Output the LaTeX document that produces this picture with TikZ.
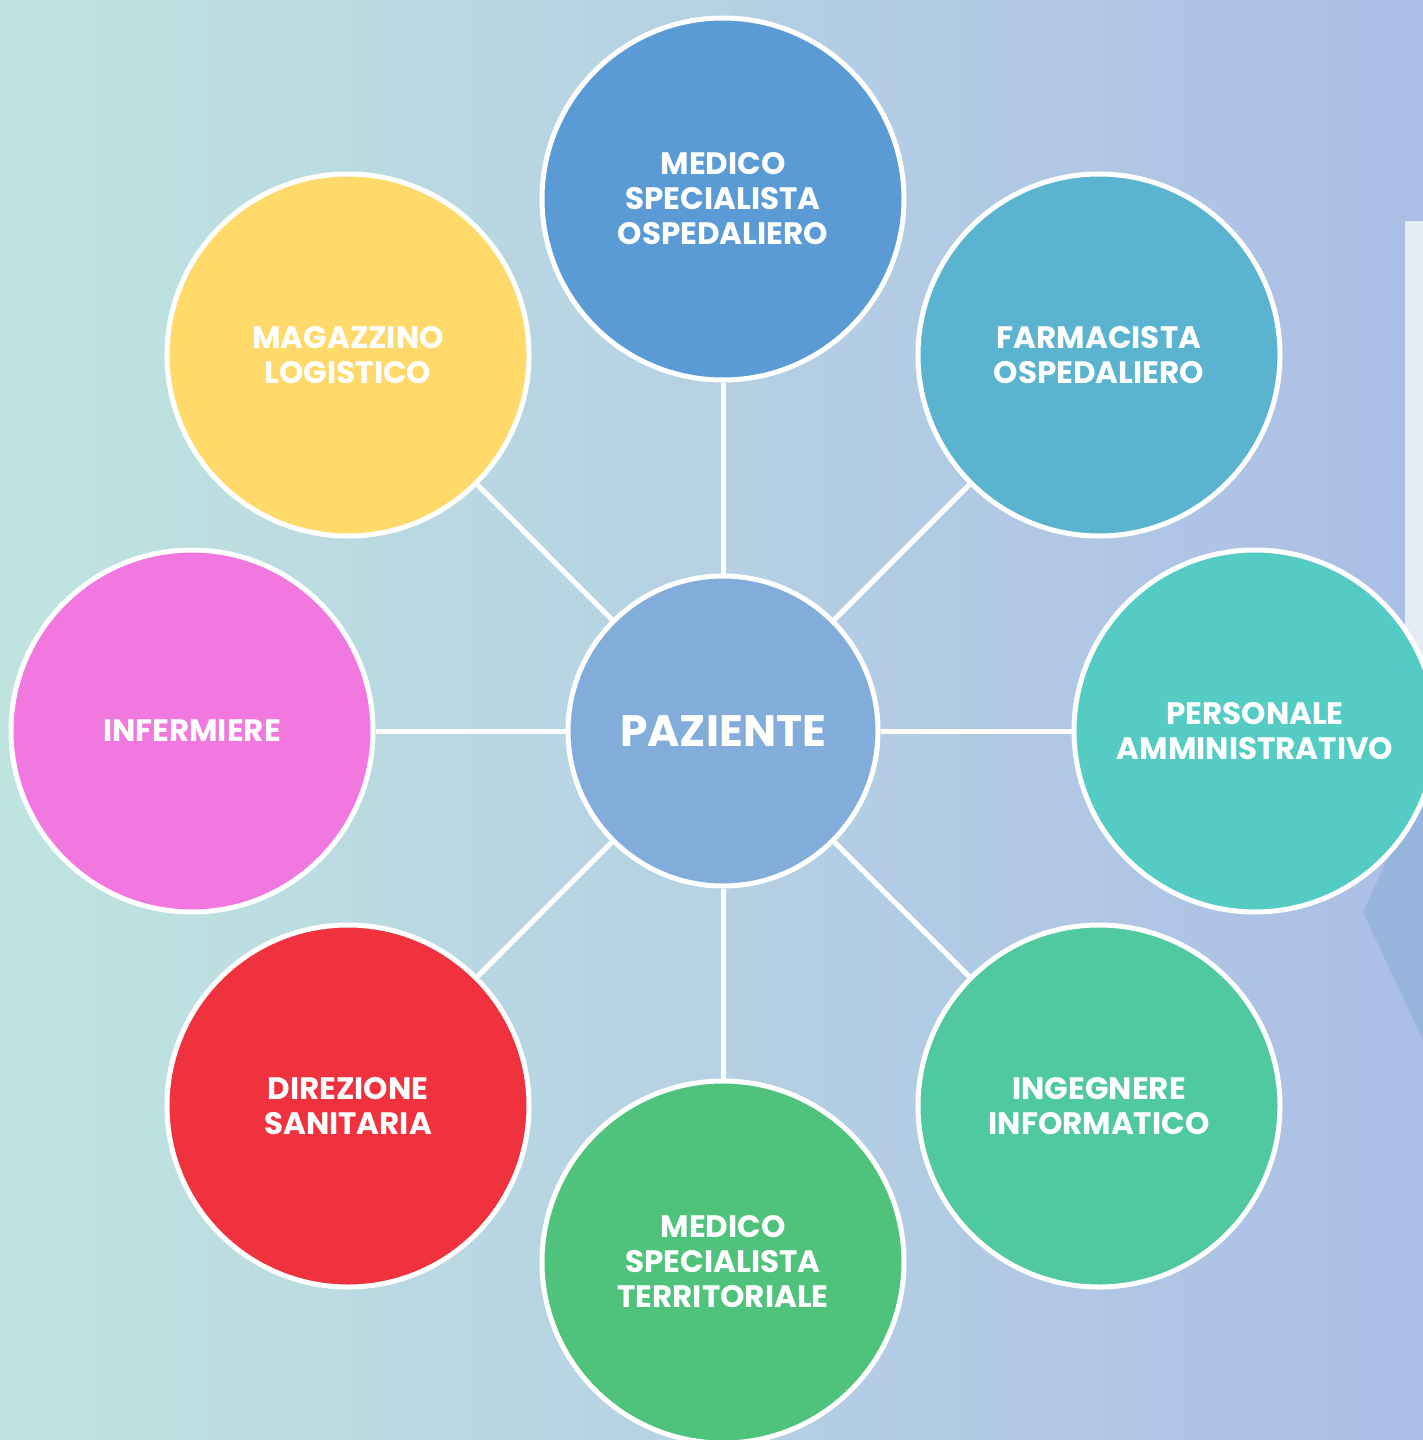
\documentclass[tikz,border=0pt]{standalone}
\usepackage{fontspec}
\setmainfont{Poppins}

\definecolor{bgleft}{HTML}{BFE4E0}
\definecolor{bgmid}{HTML}{B7D2E4}
\definecolor{bgright}{HTML}{ABBEE6}
\definecolor{panel}{HTML}{E4ECF6}
\definecolor{chev}{HTML}{96B4DC}
\definecolor{hubblue}{HTML}{82ACD9}
\definecolor{medblue}{HTML}{5B9BD5}
\definecolor{farmblue}{HTML}{5AB4CF}
\definecolor{persteal}{HTML}{54CCC4}
\definecolor{inggreen}{HTML}{50C8A0}
\definecolor{tergreen}{HTML}{4FC27C}
\definecolor{dirred}{HTML}{F0323F}
\definecolor{infpink}{HTML}{F078DF}
\definecolor{magyellow}{HTML}{FFD96A}

\tikzset{
  role/.style={circle, draw=white, line width=2.5pt, minimum size=181pt,
    inner sep=0pt, text=white, align=center,
    font=\bfseries\fontsize{15.5}{17.5}\selectfont},
  hub/.style={role, minimum size=155pt, fill=hubblue,
    font=\bfseries\fontsize{22}{26}\selectfont},
  spoke/.style={draw=white, line width=2.5pt}
}

\begin{document}
\begin{tikzpicture}[x=0.5pt,y=-0.5pt]
\useasboundingbox (0,0) rectangle (1423,1440);
\shade[left color=bgleft, middle color=bgmid, right color=bgright] (0,0) rectangle (1423,1440);

% panel at the right edge
\fill[panel] (1405,221) rectangle (1423,880);
\fill[chev] (1363,912) -- (1423,782) -- (1423,1040) -- cycle;

\node[hub] (paz) at (723,731) {PAZIENTE};

\node[role, fill=medblue] (med) at (723,199) {MEDICO\\SPECIALISTA\\OSPEDALIERO};
\node[role, fill=farmblue] (farm) at (1099,355) {FARMACISTA\\OSPEDALIERO};
\node[role, fill=persteal] (pers) at (1255,731) {PERSONALE\\AMMINISTRATIVO};
\node[role, fill=inggreen] (ing) at (1099,1106) {INGEGNERE\\INFORMATICO};
\node[role, fill=tergreen] (ter) at (723,1262) {MEDICO\\SPECIALISTA\\TERRITORIALE};
\node[role, fill=dirred] (dir) at (348,1106) {DIREZIONE\\SANITARIA};
\node[role, fill=infpink] (inf) at (192,731) {INFERMIERE};
\node[role, fill=magyellow] (mag) at (348,355) {MAGAZZINO\\LOGISTICO};

\foreach \n in {med,farm,pers,ing,ter,dir,inf,mag}
  \draw[spoke] (paz) -- (\n);
\end{tikzpicture}
\end{document}
